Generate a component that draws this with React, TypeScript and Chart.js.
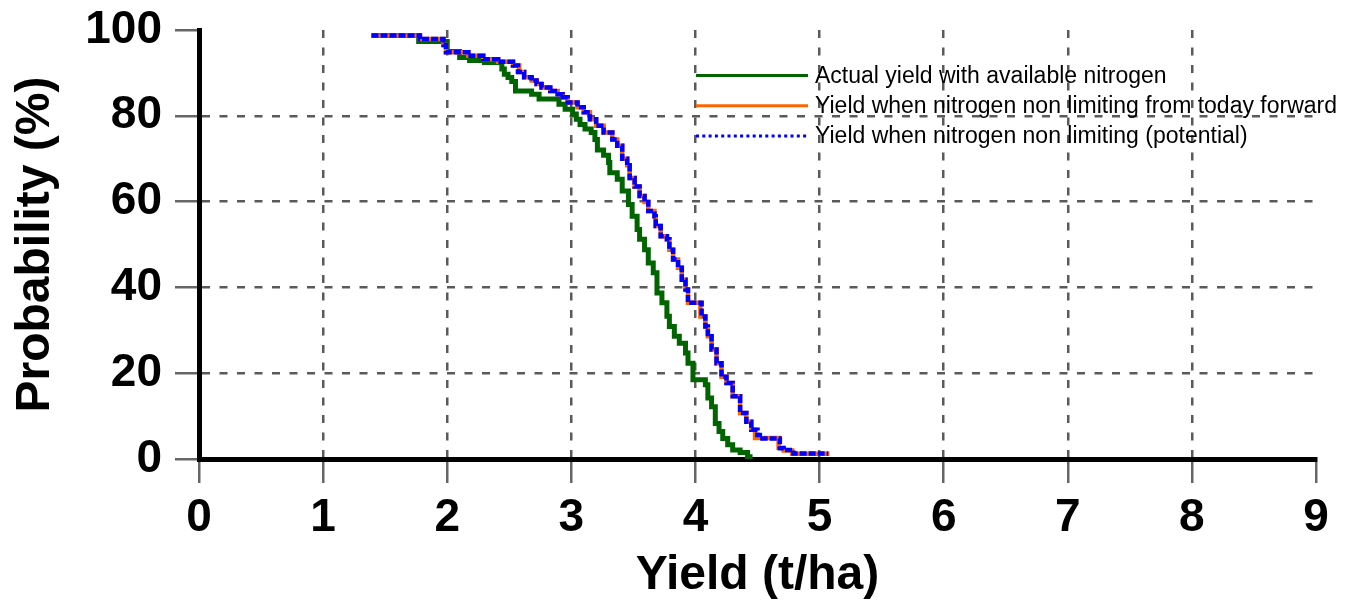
import React, { useEffect, useRef } from 'react';
import { Chart, registerables } from 'chart.js';

Chart.register(...registerables);

// ---- Data ----
const SERIES_LABELS = [
  'Actual yield with available nitrogen',
  'Yield when nitrogen non limiting from today forward',
  'Yield when nitrogen non limiting (potential)',
];
const SERIES_COLORS = ['#006400', '#FF6600', '#0000FF'];

const X_TITLE = 'Yield (t/ha)';
const Y_TITLE = 'Probability (%)';

// Actual yield with available nitrogen (step points: yield, probability of exceedance)
const actualYield = [1.39, 1.77, 2.0, 2.1, 2.18, 2.3, 2.44, 2.46, 2.49, 2.52, 2.55, 2.68, 2.74, 2.9, 2.95, 3.01, 3.04, 3.07, 3.11, 3.16, 3.19, 3.21, 3.26, 3.3, 3.31, 3.37, 3.41, 3.46, 3.49, 3.53, 3.55, 3.59, 3.62, 3.66, 3.69, 3.73, 3.77, 3.79, 3.83, 3.87, 3.92, 3.94, 3.98, 4.08, 4.1, 4.13, 4.16, 4.19, 4.22, 4.26, 4.3, 4.36, 4.42, 4.46];
const actualProb = [98.7, 97.3, 95.0, 93.6, 92.9, 92.4, 90.9, 89.7, 88.9, 88.0, 85.8, 85.0, 83.9, 82.7, 81.5, 80.4, 79.2, 78.0, 76.9, 76.1, 74.5, 72.0, 70.8, 69.1, 66.7, 65.2, 62.5, 59.3, 56.6, 53.5, 51.2, 48.8, 45.7, 43.4, 38.7, 36.4, 33.3, 30.9, 28.6, 27.0, 24.7, 22.3, 18.5, 17.3, 14.2, 12.2, 8.3, 6.4, 4.8, 3.3, 2.1, 1.5, 0.5, 0.5];

// Yield when nitrogen non limiting from today forward
const todayYield = [1.39, 1.78, 1.97, 1.99, 2.17, 2.29, 2.41, 2.53, 2.58, 2.62, 2.68, 2.72, 2.76, 2.83, 2.89, 2.93, 2.97, 3.05, 3.1, 3.15, 3.2, 3.26, 3.33, 3.37, 3.41, 3.45, 3.47, 3.51, 3.55, 3.59, 3.62, 3.67, 3.68, 3.72, 3.77, 3.79, 3.82, 3.86, 3.89, 3.92, 3.94, 4.04, 4.08, 4.1, 4.13, 4.17, 4.21, 4.25, 4.3, 4.36, 4.41, 4.45, 4.48, 4.67, 4.71, 4.78, 5.08];
const todayProb = [98.7, 97.9, 96.5, 94.8, 94.0, 93.2, 92.6, 91.7, 90.2, 89.0, 88.2, 87.4, 86.6, 85.8, 85.0, 84.3, 83.1, 82.0, 80.8, 79.2, 77.7, 76.1, 74.5, 73.0, 70.0, 68.5, 65.5, 63.5, 61.3, 59.9, 57.8, 56.6, 54.3, 51.9, 51.2, 48.8, 46.5, 44.6, 41.8, 39.5, 36.4, 33.2, 30.9, 28.6, 25.5, 22.3, 19.2, 17.7, 14.6, 10.7, 8.7, 6.8, 4.9, 2.6, 2.0, 1.2, 1.2];

// Yield when nitrogen non limiting (potential)
const potentialYield = [1.39, 1.78, 1.97, 1.99, 2.17, 2.29, 2.41, 2.53, 2.57, 2.62, 2.68, 2.72, 2.76, 2.83, 2.89, 2.93, 2.97, 3.05, 3.1, 3.15, 3.2, 3.26, 3.33, 3.37, 3.41, 3.45, 3.47, 3.51, 3.55, 3.59, 3.62, 3.67, 3.68, 3.72, 3.77, 3.79, 3.82, 3.86, 3.89, 3.92, 3.94, 4.05, 4.08, 4.1, 4.13, 4.17, 4.21, 4.25, 4.3, 4.36, 4.41, 4.45, 4.5, 4.54, 4.68, 4.71, 4.79, 5.07];
const potentialProb = [98.7, 97.9, 96.5, 94.8, 94.0, 93.2, 92.6, 91.7, 90.2, 89.0, 88.2, 87.4, 86.6, 85.8, 85.0, 84.3, 83.1, 82.0, 80.8, 79.2, 77.7, 76.1, 74.5, 73.0, 70.0, 68.5, 65.5, 63.5, 61.3, 59.9, 57.8, 56.6, 54.3, 51.9, 51.2, 48.8, 46.5, 44.6, 41.8, 39.5, 36.4, 33.2, 30.9, 28.6, 25.5, 22.3, 19.2, 17.7, 14.6, 10.7, 8.7, 6.8, 5.6, 4.8, 2.5, 2.1, 1.3, 1.3];

const X_MIN = 0;
const X_MAX = 9;
const X_STEP = 1;
const Y_MIN = 0;
const Y_MAX = 100;
const Y_STEP = 20;

const FONT = '"Liberation Sans", Arial, sans-serif';

const toPoints = (xs: number[], ys: number[]) => xs.map((x, i) => ({ x, y: ys[i] }));

const legendPlugin = {
  id: 'insideLegend',
  afterDraw(chart: any) {
    const ctx = chart.ctx as CanvasRenderingContext2D;
    ctx.save();
    SERIES_LABELS.forEach((label, i) => {
      const y = 75.5 + i * 30.3;
      ctx.strokeStyle = SERIES_COLORS[i];
      ctx.lineWidth = 3;
      ctx.setLineDash(i === 2 ? [3, 3.3] : []);
      ctx.beginPath();
      ctx.moveTo(696, y);
      ctx.lineTo(808, y);
      ctx.stroke();
      ctx.setLineDash([]);
      ctx.fillStyle = '#000';
      ctx.font = `23px ${FONT}`;
      ctx.textAlign = 'left';
      ctx.textBaseline = 'middle';
      ctx.fillText(label, 815, y + 1);
    });
    ctx.restore();
  },
};

export default function App() {
  const ref = useRef<HTMLCanvasElement | null>(null);

  useEffect(() => {
    if (!ref.current) return;
    const chart = new Chart(ref.current, {
      type: 'line',
      data: {
        datasets: [
          {
            label: SERIES_LABELS[0],
            data: toPoints(actualYield, actualProb),
            borderColor: SERIES_COLORS[0],
            borderWidth: 5,
            stepped: 'before',
            pointRadius: 0,
            fill: false,
            order: 3,
          },
          {
            label: SERIES_LABELS[1],
            data: toPoints(todayYield, todayProb),
            borderColor: SERIES_COLORS[1],
            borderWidth: 4.5,
            stepped: 'before',
            pointRadius: 0,
            fill: false,
            order: 2,
          },
          {
            label: SERIES_LABELS[2],
            data: toPoints(potentialYield, potentialProb),
            borderColor: SERIES_COLORS[2],
            borderWidth: 4.5,
            borderDash: [7, 2],
            stepped: 'before',
            pointRadius: 0,
            fill: false,
            order: 1,
          },
        ],
      },
      options: {
        animation: false,
        responsive: false,
        devicePixelRatio: 1,
        layout: { padding: { left: 0, right: 43, top: 30, bottom: 0 } },
        plugins: {
          legend: { display: false },
          tooltip: { enabled: false },
        },
        scales: {
          x: {
            type: 'linear',
            min: X_MIN,
            max: X_MAX,
            afterFit: (s: any) => {
              s.height = 148;
            },
            ticks: {
              stepSize: X_STEP,
              autoSkip: false,
              color: '#000',
              padding: 8,
              font: { family: FONT, size: 46, weight: 'bold' },
            },
            grid: {
              color: (c: any) => (c.tick && c.tick.value === X_MAX ? 'rgba(0,0,0,0)' : '#5a5a5a'),
              lineWidth: 2.5,
              tickLength: 24,
              tickColor: '#666',
              tickWidth: 2.5,
              tickBorderDash: [],
            },
            border: { color: '#000', width: 5, dash: [8, 9.5] },
            title: {
              display: true,
              text: X_TITLE,
              color: '#000',
              font: { family: FONT, size: 48, weight: 'bold' },
              padding: { top: 0, bottom: 2 },
            },
          },
          y: {
            type: 'linear',
            min: Y_MIN,
            max: Y_MAX,
            afterFit: (s: any) => {
              s.width = 199;
            },
            ticks: {
              stepSize: Y_STEP,
              color: '#000',
              padding: 13,
              font: { family: FONT, size: 46, weight: 'bold', lineHeight: 0.6 },
            },
            grid: {
              color: (c: any) => (c.tick && c.tick.value === Y_MAX ? 'rgba(0,0,0,0)' : '#5a5a5a'),
              lineWidth: 2.5,
              tickLength: 24,
              tickColor: '#666',
              tickWidth: 2.5,
              tickBorderDash: [],
            },
            border: { color: '#000', width: 5, dash: [8, 9.5] },
            title: {
              display: true,
              text: Y_TITLE,
              color: '#000',
              font: { family: FONT, size: 48, weight: 'bold' },
              padding: { top: 7, bottom: 0 },
            },
          },
        },
      },
      plugins: [legendPlugin],
    } as any);
    return () => chart.destroy();
  }, []);

  return (
    <div style={{ position: 'absolute', left: 0, top: 0, width: 1359, height: 607, background: '#fff' }}>
      <canvas ref={ref} width={1359} height={607} style={{ display: 'block' }} />
    </div>
  );
}
